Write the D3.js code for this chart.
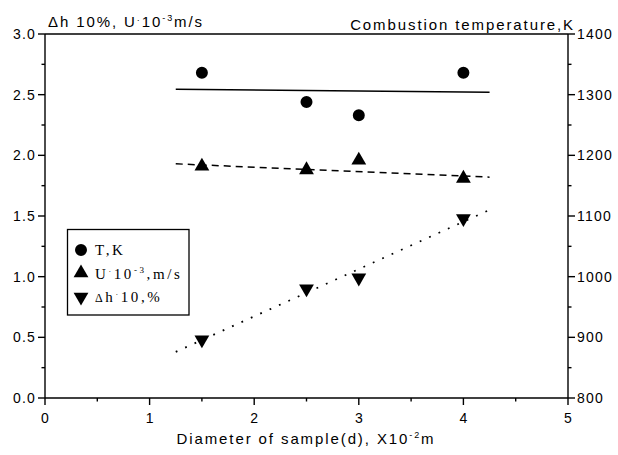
<!DOCTYPE html>
<html><head><meta charset="utf-8">
<script src="https://cdn.jsdelivr.net/npm/d3@7"></script>
<style>
body{margin:0;background:#fff;}
svg{display:block;}
.tk{font-family:"Liberation Sans",Arial,sans-serif;font-size:14px;letter-spacing:1.2px;fill:#000;}
.ttl{font-family:"Liberation Sans",Arial,sans-serif;font-size:15px;letter-spacing:1.9px;fill:#000;}
.lg{font-family:"Liberation Serif","Times New Roman",serif;font-size:15px;letter-spacing:2.6px;fill:#000;}
</style>
</head><body>
<svg id="c" width="618" height="455"></svg>
<script>
// ---- data ----
const diameters = [1.5, 2.5, 3.0, 4.0];           // x10^-2 m
const tempK     = [1336, 1288, 1266, 1336];       // T, K (right axis)
const velocity  = [1.91, 1.88, 1.96, 1.81];       // U*10^-3 m/s (left axis)
const deltaH    = [0.48, 0.90, 0.99, 1.48];       // dh 10 % (left axis)
const fitX      = [1.25, 4.25];
const tempFit   = [1309, 1304];
const velFit    = [1.93, 1.82];
const dhFit     = [0.38, 1.55];
const xTicks    = [0, 1, 2, 3, 4, 5];
const leftTicks = [0.0, 0.5, 1.0, 1.5, 2.0, 2.5, 3.0];
const rightTicks= [800, 900, 1000, 1100, 1200, 1300, 1400];

const svg = d3.select("#c");
const X0 = 45, X1 = 568, Y0 = 398, Y1 = 34;
const x = d3.scaleLinear().domain([0, 5]).range([X0, X1]);
const yL = d3.scaleLinear().domain([0, 3]).range([Y0, Y1]);
const yR = d3.scaleLinear().domain([800, 1400]).range([Y0, Y1]);

// frame
const g = svg.append("g").attr("stroke", "#000").attr("stroke-width", 1.4).attr("fill", "none");
g.append("line").attr("x1", X0).attr("x2", X1).attr("y1", Y0).attr("y2", Y0);
g.append("line").attr("x1", X0).attr("x2", X1).attr("y1", Y1).attr("y2", Y1);
g.append("line").attr("x1", X0).attr("x2", X0).attr("y1", Y0).attr("y2", Y1);
g.append("line").attr("x1", X1).attr("x2", X1).attr("y1", Y0).attr("y2", Y1);

// x ticks
const xMinor = d3.range(0.5, 5, 1);
xTicks.forEach(t => g.append("line").attr("x1", x(t)).attr("x2", x(t)).attr("y1", Y0).attr("y2", Y0 + 7));
xMinor.forEach(t => g.append("line").attr("x1", x(t)).attr("x2", x(t)).attr("y1", Y0).attr("y2", Y0 + 3.5));
svg.selectAll(".xl").data(xTicks).enter().append("text").attr("class", "tk")
  .attr("x", d => x(d) + 0.6).attr("y", 423).attr("text-anchor", "middle").text(d => d);

// left ticks
const lMinor = d3.range(0.25, 3, 0.5);
leftTicks.forEach(t => g.append("line").attr("x1", X0).attr("x2", X0 - 7).attr("y1", yL(t)).attr("y2", yL(t)));
lMinor.forEach(t => g.append("line").attr("x1", X0).attr("x2", X0 - 3.5).attr("y1", yL(t)).attr("y2", yL(t)));
svg.selectAll(".yl").data(leftTicks).enter().append("text").attr("class", "tk")
  .attr("x", 36).attr("y", d => yL(d) + 5).attr("text-anchor", "end").text(d => d3.format(".1f")(d));

// right ticks
const rMinor = d3.range(850, 1400, 100);
rightTicks.forEach(t => g.append("line").attr("x1", X1).attr("x2", X1 + 7).attr("y1", yR(t)).attr("y2", yR(t)));
rMinor.forEach(t => g.append("line").attr("x1", X1).attr("x2", X1 + 3.5).attr("y1", yR(t)).attr("y2", yR(t)));
svg.selectAll(".yr").data(rightTicks).enter().append("text").attr("class", "tk")
  .attr("x", 577).attr("y", d => yR(d) + 5).attr("text-anchor", "start").text(d => d);

// titles
const tl = svg.append("text").attr("class", "ttl").attr("x", 48).attr("y", 27);
tl.append("tspan").text("\u0394h 10%, U");
tl.append("tspan").attr("font-size", 9).attr("dy", -4).text("\u00b7");
tl.append("tspan").attr("dy", 4).text("10");
tl.append("tspan").attr("font-size", 9).attr("dy", -6).text("-3");
tl.append("tspan").attr("dy", 6).text("m/s");

svg.append("text").attr("class", "ttl").attr("x", 575).attr("y", 30).attr("text-anchor", "end")
  .text("Combustion temperature,K");

const xl = svg.append("text").attr("class", "ttl").attr("x", 306).attr("y", 444).attr("text-anchor", "middle");
xl.append("tspan").text("Diameter of sample(d), X10");
xl.append("tspan").attr("font-size", 9).attr("dy", -6).text("-2");
xl.append("tspan").attr("dy", 6).text("m");

// fit lines
const seg = (ys, scale) => d3.line().x((d, i) => x(fitX[i])).y(d => scale(d))(ys);
svg.append("path").attr("d", seg(tempFit, yR)).attr("stroke", "#000").attr("stroke-width", 1.5).attr("fill", "none");
svg.append("path").attr("d", seg(velFit, yL)).attr("stroke", "#000").attr("stroke-width", 1.5)
  .attr("stroke-dasharray", "7,5").attr("fill", "none");
svg.append("path").attr("d", seg(dhFit, yL)).attr("stroke", "#000").attr("stroke-width", 1.8)
  .attr("stroke-dasharray", "1.8,8.5").attr("fill", "none");

// markers
const circ = d3.symbol().type(d3.symbolCircle).size(113);
const tri = d3.symbol().type(d3.symbolTriangle).size(95);
svg.selectAll(".pT").data(diameters).enter().append("path")
  .attr("d", circ).attr("transform", (d, i) => `translate(${x(d)},${yR(tempK[i])})`).attr("fill", "#000");
svg.selectAll(".pU").data(diameters).enter().append("path")
  .attr("d", tri).attr("transform", (d, i) => `translate(${x(d)},${yL(velocity[i])})`).attr("fill", "#000");
svg.selectAll(".pH").data(diameters).enter().append("path")
  .attr("d", tri).attr("transform", (d, i) => `translate(${x(d)},${yL(deltaH[i])}) rotate(180)`).attr("fill", "#000");

// legend
const lg = svg.append("g");
lg.append("rect").attr("x", 67.5).attr("y", 229.5).attr("width", 121.5).attr("height", 85.5)
  .attr("fill", "#fff").attr("stroke", "#000").attr("stroke-width", 1.3);
lg.append("path").attr("d", circ).attr("transform", "translate(81,250)").attr("fill", "#000");
lg.append("path").attr("d", tri).attr("transform", "translate(81,273)").attr("fill", "#000");
lg.append("path").attr("d", tri).attr("transform", "translate(81,297) rotate(180)").attr("fill", "#000");
lg.append("text").attr("class", "lg").attr("x", 95).attr("y", 255).text("T,K");
const l2 = lg.append("text").attr("class", "lg").attr("x", 95).attr("y", 279);
l2.append("tspan").text("U");
l2.append("tspan").attr("font-size", 8).attr("dy", -5).text("\u00b7");
l2.append("tspan").attr("dy", 5).text("10");
l2.append("tspan").attr("font-size", 9).attr("dy", -6).text("-3");
l2.append("tspan").attr("dy", 6).text(",m/s");
const l3 = lg.append("text").attr("class", "lg").attr("x", 95).attr("y", 302);
l3.append("tspan").attr("font-size", 12).text("\u0394");
l3.append("tspan").text("h");
l3.append("tspan").attr("font-size", 8).attr("dy", -5).text("\u00b7");
l3.append("tspan").attr("dy", 5).text("10,%");
</script>
</body></html>
